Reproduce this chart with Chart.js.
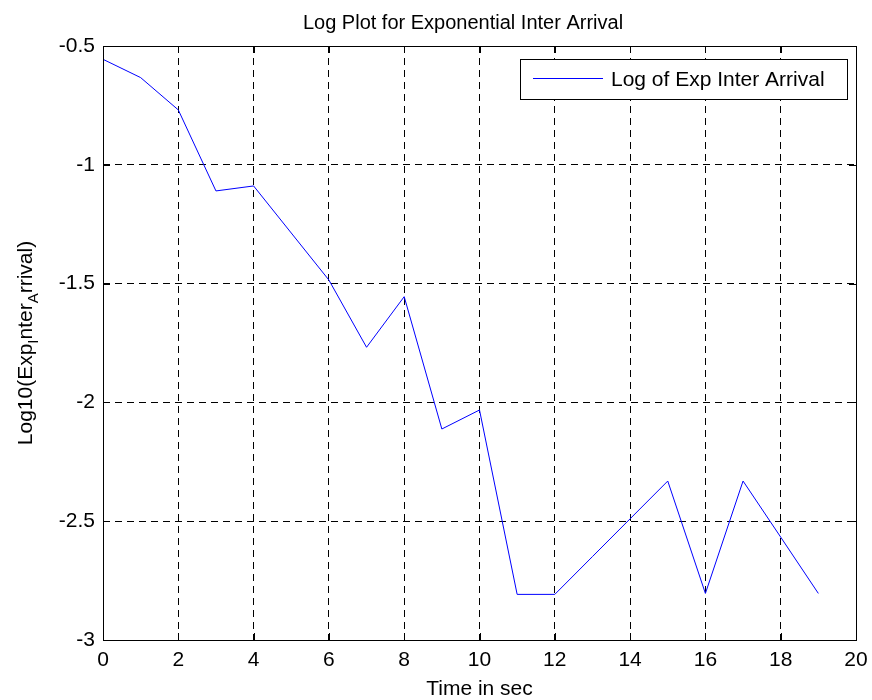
<!DOCTYPE html>
<html>
<head>
<meta charset="utf-8">
<script src="https://cdn.jsdelivr.net/npm/chart.js@4.4.1/dist/chart.umd.min.js"></script>
<style>
  html, body { margin: 0; padding: 0; background: #fff; }
  #wrap { width: 872px; height: 700px; position: relative; }
</style>
</head>
<body>
<div id="wrap"><canvas id="mainChart" width="872" height="700"></canvas></div>
<script>
// data
const timeSec = [0, 1, 2, 3, 4, 5, 6, 7, 8, 9, 10, 11, 12, 13, 14, 15, 16, 17, 18, 19];
const logInterArrival = [-0.556, -0.633, -0.769, -1.110, -1.089, -1.287, -1.485, -1.768, -1.555, -2.112,
                         -2.032, -2.808, -2.808, -2.649, -2.490, -2.331, -2.804, -2.331, -2.567, -2.804];
const xTicks = [0, 2, 4, 6, 8, 10, 12, 14, 16, 18, 20];
const yTicks = [-3, -2.5, -2, -1.5, -1, -0.5];

const seriesLabel = 'Log of Exp Inter Arrival';
const chartTitle = 'Log Plot for Exponential Inter Arrival';
const xTitle = 'Time in sec';
// y label pieces: [text, isSubscript]
const yTitleParts = [['Log10(Exp', false], ['I', true], ['nter', false], ['A', true], ['rrival)', false]];

const FONT = "'Liberation Sans', Arial, sans-serif";

const matlabDecor = {
    id: 'matlabDecor',
    afterDraw: (chart) => {
        const ctx = chart.ctx, a = chart.chartArea;
        const xs = chart.scales.x, ys = chart.scales.y;
        ctx.save();
        // box
        ctx.strokeStyle = '#000'; ctx.lineWidth = 1; ctx.setLineDash([]);
        ctx.strokeRect(Math.round(a.left) + 0.5, Math.round(a.top) + 0.5, Math.round(a.right - a.left), Math.round(a.bottom - a.top));
        // inward ticks
        const tl = 7;
        ctx.beginPath();
        xTicks.forEach(v => {
            const px = Math.round(xs.getPixelForValue(v)) + 0.5;
            ctx.moveTo(px, a.bottom); ctx.lineTo(px, a.bottom - tl);
            ctx.moveTo(px, a.top); ctx.lineTo(px, a.top + tl);
        });
        yTicks.forEach(v => {
            const py = Math.round(ys.getPixelForValue(v)) + 0.5;
            ctx.moveTo(a.left, py); ctx.lineTo(a.left + tl, py);
            ctx.moveTo(a.right, py); ctx.lineTo(a.right - tl, py);
        });
        ctx.stroke();

        // title
        ctx.fillStyle = '#000';
        ctx.font = '20px ' + FONT;
        ctx.textAlign = 'center'; ctx.textBaseline = 'alphabetic';
        ctx.fillText(chartTitle, 463, 29);

        // x title
        ctx.font = '21px ' + FONT;
        ctx.fillText(xTitle, (a.left + a.right) / 2, 695);

        // y title with subscripts, rotated
        const big = '21px ' + FONT, small = '15px ' + FONT;
        let total = 0;
        yTitleParts.forEach(p => { ctx.font = p[1] ? small : big; total += ctx.measureText(p[0]).width; });
        ctx.translate(32, 343);
        ctx.rotate(-Math.PI / 2);
        ctx.textAlign = 'left';
        let cx = -total / 2;
        yTitleParts.forEach(p => {
            ctx.font = p[1] ? small : big;
            ctx.fillText(p[0], cx, p[1] ? 6 : 0);
            cx += ctx.measureText(p[0]).width;
        });
        ctx.setTransform(1, 0, 0, 1, 0, 0);

        // legend box
        const ds = chart.data.datasets[0];
        const lx = 520, ly = 59, lw = 327, lh = 40;
        ctx.fillStyle = '#fff';
        ctx.fillRect(lx, ly, lw, lh);
        ctx.strokeStyle = '#000';
        ctx.strokeRect(lx + 0.5, ly + 0.5, lw, lh);
        ctx.strokeStyle = ds.borderColor; ctx.lineWidth = 1;
        ctx.beginPath(); ctx.moveTo(533, 78.5); ctx.lineTo(603, 78.5); ctx.stroke();
        ctx.fillStyle = '#000';
        ctx.font = '21px ' + FONT;
        ctx.textAlign = 'left'; ctx.textBaseline = 'middle';
        ctx.fillText(ds.label, 611, 80);
        ctx.restore();
    }
};

const customCanvasBackgroundColor = {
    id: 'customCanvasBackgroundColor',
    beforeDraw: (chart) => {
        const ctx = chart.ctx; ctx.save(); ctx.globalCompositeOperation = 'destination-over';
        ctx.fillStyle = '#ffffff'; ctx.fillRect(0, 0, chart.width, chart.height); ctx.restore();
    }
};

new Chart(document.getElementById('mainChart'), {
    type: 'line',
    data: {
        datasets: [{
            label: seriesLabel,
            data: timeSec.map((t, i) => ({ x: t, y: logInterArrival[i] })),
            borderColor: '#0000ff',
            borderWidth: 1,
            pointRadius: 0,
            tension: 0,
            fill: false
        }]
    },
    options: {
        responsive: false,
        animation: false,
        devicePixelRatio: 1,
        layout: { padding: { top: 46, right: 16, left: 0, bottom: 0 } },
        scales: {
            x: {
                type: 'linear', min: 0, max: 20,
                afterFit: (s) => { s.height = 60; s.paddingLeft = 0; s.paddingRight = 0; },
                afterBuildTicks: (s) => { s.ticks = xTicks.map(v => ({ value: v })); },
                ticks: { color: '#000', font: { size: 21, family: FONT }, padding: 8, maxRotation: 0,
                         callback: (v) => String(v) },
                grid: { color: '#000', lineWidth: 1, drawTicks: false },
                border: { display: false, dash: [7, 5] }
            },
            y: {
                min: -3, max: -0.5,
                afterFit: (s) => { s.width = 103; s.paddingTop = 0; s.paddingBottom = 0; },
                afterBuildTicks: (s) => { s.ticks = yTicks.map(v => ({ value: v })); },
                ticks: { color: '#000', font: { size: 21, family: FONT }, padding: 8,
                         callback: (v) => String(v) },
                grid: { color: '#000', lineWidth: 1, drawTicks: false },
                border: { display: false, dash: [7, 5] }
            }
        },
        plugins: {
            legend: { display: false },
            title: { display: false },
            tooltip: { enabled: false }
        }
    },
    plugins: [customCanvasBackgroundColor, matlabDecor]
});
</script>
</body>
</html>
